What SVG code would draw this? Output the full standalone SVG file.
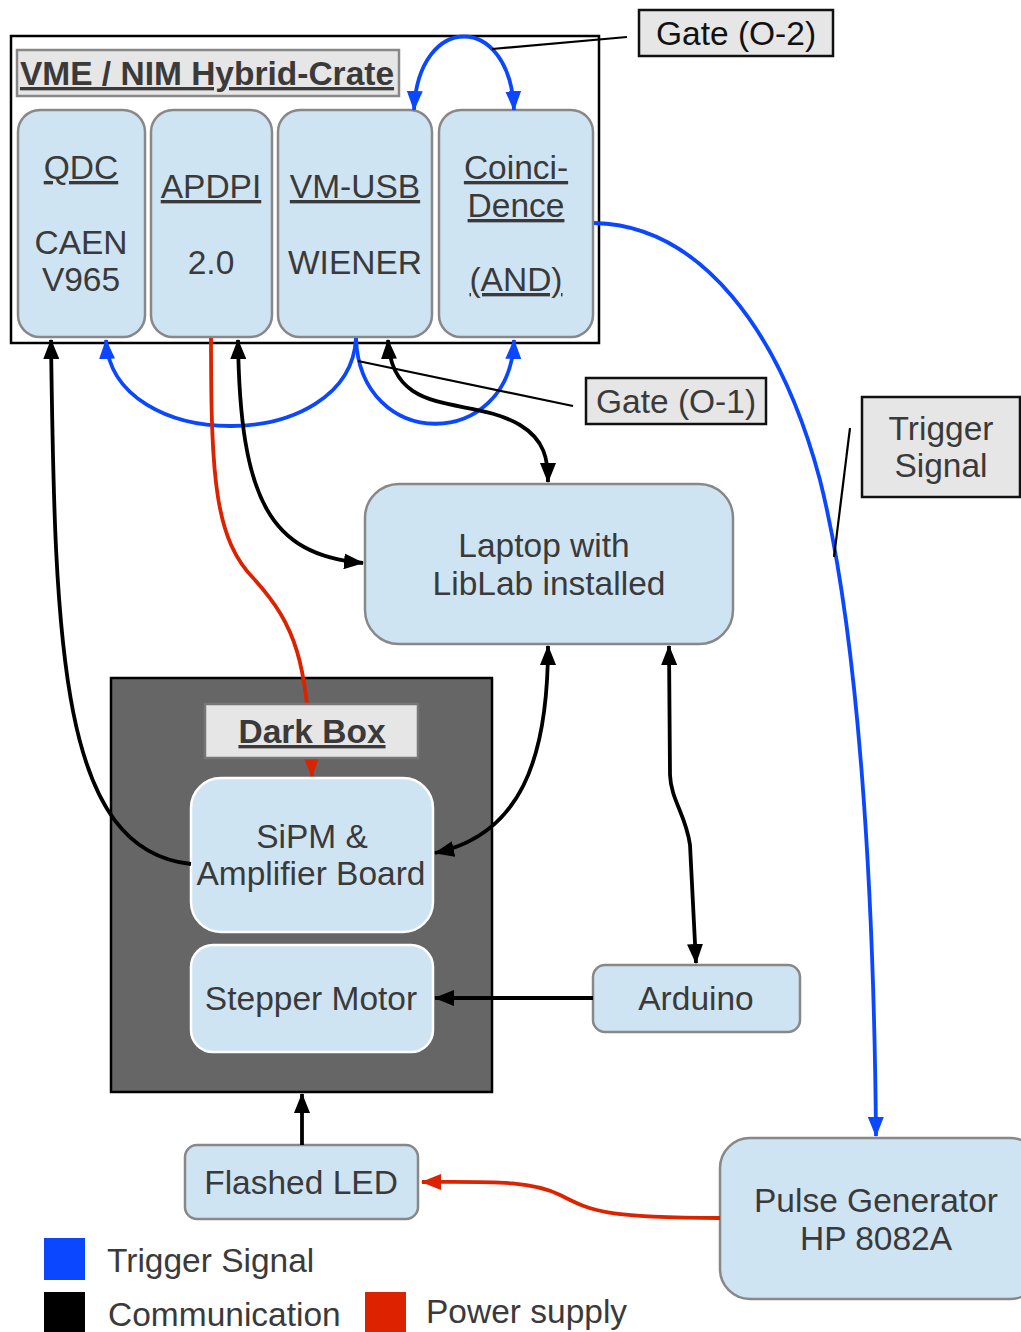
<svg xmlns="http://www.w3.org/2000/svg" width="1021" height="1332" viewBox="0 0 1021 1332">
  <defs>
    <style>
      text { font-family: "Liberation Sans", Arial, sans-serif; font-size: 33.5px; fill: #3a3a3a; text-anchor: middle; }
      .u { text-decoration: underline; }
      .b { font-weight: bold; }
      .mod { fill: #cfe4f2; stroke: #888888; stroke-width: 2.5; }
      .inner { fill: #cfe4f2; stroke: #ffffff; stroke-width: 2.5; }
      .tag { fill: #e6e6e6; stroke: #111111; stroke-width: 2.5; }
      .title { fill: #e6e6e6; stroke: #888888; stroke-width: 2.5; }
      .blue { fill: none; stroke: #0a47ff; stroke-width: 3.8; }
      .black { fill: none; stroke: #000000; stroke-width: 3.8; }
      .red { fill: none; stroke: #dd2200; stroke-width: 3.8; }
      .lead { fill: none; stroke: #000000; stroke-width: 2.2; }
    </style>
    <marker id="ab" viewBox="0 0 20 16" refX="19" refY="8" markerWidth="20" markerHeight="16" markerUnits="userSpaceOnUse" orient="auto-start-reverse">
      <path d="M0,0 L20,8 L0,16 Z" fill="#0a47ff"/>
    </marker>
    <marker id="ak" viewBox="0 0 20 16" refX="19" refY="8" markerWidth="20" markerHeight="16" markerUnits="userSpaceOnUse" orient="auto-start-reverse">
      <path d="M0,0 L20,8 L0,16 Z" fill="#000000"/>
    </marker>
    <marker id="ar" viewBox="0 0 20 16" refX="19" refY="8" markerWidth="20" markerHeight="16" markerUnits="userSpaceOnUse" orient="auto-start-reverse">
      <path d="M0,0 L20,8 L0,16 Z" fill="#dd2200"/>
    </marker>
  </defs>

  <!-- crate frame -->
  <g id="crate">
    <rect x="11" y="36" width="588" height="307" fill="#ffffff" stroke="#000000" stroke-width="2.5"/>
    <rect class="title" x="17" y="50" width="382" height="46"/>
    <text class="b u" x="207" y="85">VME / NIM Hybrid-Crate</text>
  </g>

  <g id="qdc">
    <rect class="mod" x="18" y="110" width="127" height="227" rx="22"/>
    <text class="u" x="81" y="179">QDC</text>
    <text x="81" y="254">CAEN</text>
    <text x="81" y="291">V965</text>
  </g>
  <g id="apdpi">
    <rect class="mod" x="151" y="110" width="121" height="227" rx="22"/>
    <text class="u" x="211" y="198">APDPI</text>
    <text x="211" y="274">2.0</text>
  </g>
  <g id="vmusb">
    <rect class="mod" x="278" y="110" width="154" height="227" rx="22"/>
    <text class="u" x="355" y="198">VM-USB</text>
    <text x="355" y="274">WIENER</text>
  </g>
  <g id="coincidence">
    <rect class="mod" x="439" y="110" width="154" height="227" rx="22"/>
    <text class="u" x="516" y="179">Coinci-</text>
    <text class="u" x="516" y="217">Dence</text>
    <text class="u" x="516" y="291">(AND)</text>
  </g>

  <!-- dark box enclosure -->
  <g id="darkbox">
    <rect x="111" y="678" width="381" height="414" fill="#666666" stroke="#000000" stroke-width="2.5"/>
  </g>

  <g id="laptop">
    <rect class="mod" x="365" y="484" width="368" height="160" rx="34"/>
    <text x="544" y="557">Laptop with</text>
    <text x="549" y="595">LibLab installed</text>
  </g>

  <g id="sipm">
    <rect class="inner" x="191" y="778" width="242" height="154" rx="30"/>
    <text x="312" y="848">SiPM &amp;</text>
    <text x="311" y="885">Amplifier Board</text>
  </g>
  <g id="stepper">
    <rect class="inner" x="191" y="945" width="242" height="107" rx="22"/>
    <text x="311" y="1010">Stepper Motor</text>
  </g>
  <g id="arduino">
    <rect class="mod" x="593" y="965" width="207" height="67" rx="12"/>
    <text x="696" y="1010">Arduino</text>
  </g>
  <g id="led">
    <rect class="mod" x="185" y="1145" width="233" height="74" rx="12"/>
    <text x="301" y="1194">Flashed LED</text>
  </g>
  <g id="pulsegen">
    <rect class="mod" x="720" y="1138" width="320" height="161" rx="30"/>
    <text x="876" y="1212">Pulse Generator</text>
    <text x="876" y="1250">HP 8082A</text>
  </g>

  <!-- connectors -->
  <g id="connectors">
    <!-- trigger lines -->
    <path class="blue" d="M414,110 C418,12 510,12 514,110" marker-start="url(#ab)" marker-end="url(#ab)"/>
    <path class="blue" d="M356,338 C350,455 112,455 106,340" marker-end="url(#ab)"/>
    <path class="blue" d="M356,338 C360,452 510,452 514,340" marker-end="url(#ab)"/>
    <path class="blue" d="M594,223 C700,225 780,330 820,480 C860,640 874,900 876,1136" marker-end="url(#ab)"/>

    <!-- communication lines -->
    <path class="black" d="M191,864 C60,850 55,650 51,340" marker-end="url(#ak)"/>
    <path class="black" d="M238,340 C240,500 270,555 363,563" marker-start="url(#ak)" marker-end="url(#ak)"/>
    <path class="black" d="M388,340 C392,420 470,395 520,425 C545,440 548,460 548,482" marker-start="url(#ak)" marker-end="url(#ak)"/>
    <path class="black" d="M548,646 C548,760 520,835 435,853" marker-start="url(#ak)" marker-end="url(#ak)"/>
    <path class="black" d="M669,646 L670,775 C671,800 686,815 690,845 L696,963" marker-start="url(#ak)" marker-end="url(#ak)"/>
    <path class="black" d="M593,998 L435,998" marker-end="url(#ak)"/>
    <path class="black" d="M302,1145 L302,1094" marker-end="url(#ak)"/>

    <!-- power lines -->
    <path class="red" d="M211,338 C211,480 215,540 255,580 C295,625 308,660 312,776" marker-end="url(#ar)"/>
    <path class="red" d="M720,1218 C600,1218 590,1210 560,1195 C530,1180 490,1182 422,1182" marker-end="url(#ar)"/>

    <!-- label leaders -->
    <path class="lead" d="M627,37 L492,49"/>
    <path class="lead" d="M573,406 L358,361"/>
    <path class="lead" d="M850,428 L834,557"/>
  </g>

  <!-- dark box title sits above the power line -->
  <g id="darkbox-title">
    <rect x="205" y="704" width="213" height="54" fill="#e6e6e6" stroke="#777777" stroke-width="2.5"/>
    <text class="b u" x="312" y="743">Dark Box</text>
  </g>

  <g id="gate-o2">
    <rect class="tag" x="639" y="10" width="194" height="46"/>
    <text x="736" y="45" style="fill:#111111">Gate (O-2)</text>
  </g>
  <g id="gate-o1">
    <rect class="tag" x="586" y="378" width="180" height="46"/>
    <text x="676" y="413">Gate (O-1)</text>
  </g>
  <g id="trigger-label">
    <rect class="tag" x="862" y="397" width="158" height="100"/>
    <text x="941" y="440">Trigger</text>
    <text x="941" y="477">Signal</text>
  </g>

  <!-- legend -->
  <g id="legend">
    <rect x="44" y="1238" width="41" height="42" fill="#0a47ff"/>
    <text x="107" y="1272" style="text-anchor:start">Trigger Signal</text>
    <rect x="44" y="1292" width="41" height="42" fill="#000000"/>
    <text x="108" y="1326" style="text-anchor:start">Communication</text>
    <rect x="365" y="1292" width="41" height="42" fill="#dd2200"/>
    <text x="426" y="1323" style="text-anchor:start">Power supply</text>
  </g>
</svg>
